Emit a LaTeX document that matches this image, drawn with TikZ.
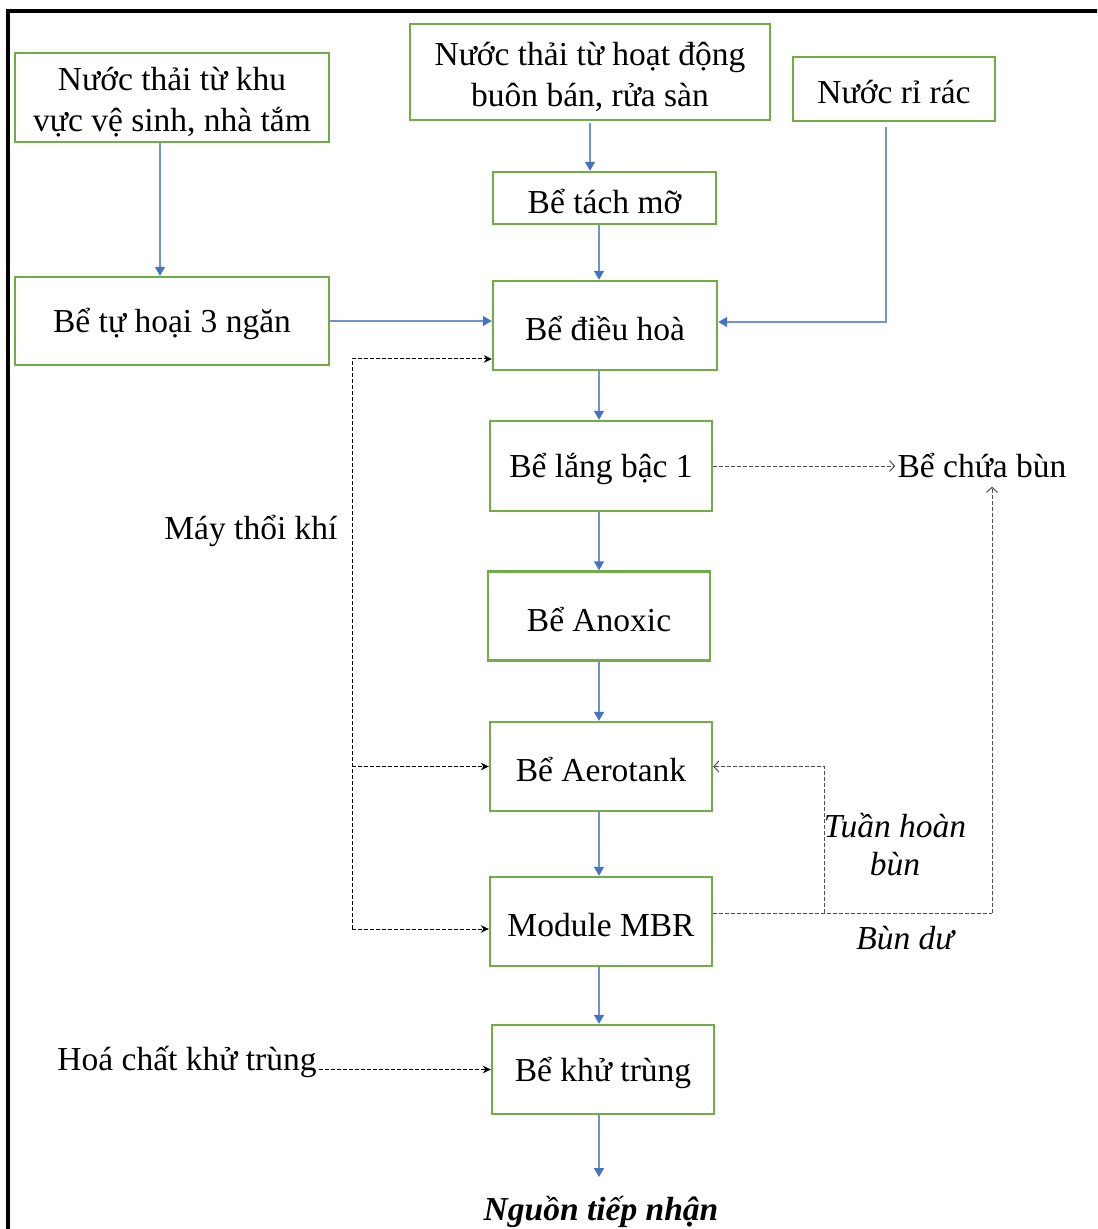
\documentclass[tikz,border=0pt]{standalone}
\usepackage{fontspec}
\setmainfont{Liberation Serif}
\usetikzlibrary{arrows.meta}

\definecolor{boxgreen}{HTML}{70AD47}
\definecolor{flowblue}{HTML}{4472C4}
\definecolor{flowline}{HTML}{6F93CF}
\definecolor{dashgray}{HTML}{4D4D4D}

\tikzset{
  txt/.style={font=\fontsize{16.75}{20.5}\selectfont, align=center, inner sep=1pt},
  boxtext/.style={txt, yshift=-1.6pt},
  boxtexttwo/.style={txt, yshift=-2.4pt},
  unitbox/.style={draw=boxgreen, line width=1.2pt, inner sep=0pt},
  flow/.style={draw=flowline, line width=0.7pt,
    -{Triangle[length=4.5pt,width=5pt,color=flowblue,fill=flowblue]}},
  airline/.style={draw=black, line width=0.5pt, dash pattern=on 2pt off 1pt},
  air/.style={airline, -{Stealth[length=4pt,width=3.8pt]}},
  sludgeline/.style={draw=dashgray, line width=0.5pt, dash pattern=on 2pt off 1pt},
  sludge/.style={sludgeline, -{Straight Barb[length=2.5pt,width=5.5pt]}},
}

\begin{document}
\begin{tikzpicture}[x=0.5pt, y=-0.5pt]
  \useasboundingbox (0,0) rectangle (1097,1229);
  \fill[white] (0,0) rectangle (1097,1229);
  \clip (0,0) rectangle (1097,1229);

  % outer frame
  \draw[line width=1.6pt, black] (8,1250) -- (8,11) -- (1120,11);

  % sources
  \node[unitbox, minimum width=157pt, minimum height=44.5pt,
    label={[boxtexttwo]center:{Nước thải từ khu\\vực vệ sinh, nhà tắm}}] (src1) at (172,97.5) {};
  \node[unitbox, minimum width=180pt, minimum height=48pt,
    label={[boxtexttwo]center:{Nước thải từ hoạt động\\buôn bán, rửa sàn}}] (src2) at (590,72) {};
  \node[unitbox, minimum width=101pt, minimum height=32pt,
    label={[boxtext]center:{Nước rỉ rác}}] (rirac) at (894,89) {};

  % treatment units
  \node[unitbox, minimum width=157pt, minimum height=44pt,
    label={[boxtext]center:{Bể tự hoại 3 ngăn}}] (tuhoai) at (172,321) {};
  \node[unitbox, minimum width=111.5pt, minimum height=26pt,
    label={[boxtext]center:{Bể tách mỡ}}] (tachmo) at (604.5,198) {};
  \node[unitbox, minimum width=112pt, minimum height=44.5pt,
    label={[boxtext]center:{Bể điều hoà}}] (dieuhoa) at (605,325.5) {};
  \node[unitbox, minimum width=111pt, minimum height=45pt,
    label={[boxtext]center:{Bể lắng bậc 1}}] (lang) at (601,466) {};
  \node[unitbox, minimum width=111pt, minimum height=44.5pt,
    label={[boxtext]center:{Bể Anoxic}}] (anoxic) at (599,616) {};
  \node[unitbox, minimum width=111pt, minimum height=44.5pt,
    label={[boxtext]center:{Bể Aerotank}}] (aerotank) at (601,766.5) {};
  \node[unitbox, minimum width=111pt, minimum height=44.5pt,
    label={[boxtext]center:{Module MBR}}] (mbr) at (601,921.5) {};
  \node[unitbox, minimum width=111pt, minimum height=44.5pt,
    label={[boxtext]center:{Bể khử trùng}}] (khutrung) at (603,1069.5) {};

  % free labels
  \node[txt] (chuabun) at (982,466) {Bể chứa bùn};
  \node[txt] (maythoi) at (251,531) {Máy thổi khí};
  \node[txt] (hoachat) at (187,1062) {Hoá chất khử trùng};
  \node[txt, font=\fontsize{16.75}{19}\selectfont\itshape] (tuanhoan) at (895,845) {Tuần hoàn\\bùn};
  \node[txt, font=\fontsize{16.75}{20}\selectfont\itshape] (bundu) at (905,938) {Bùn dư};
  \node[txt, font=\fontsize{16.75}{20}\selectfont\bfseries\itshape] (nguon) at (601,1212) {Nguồn tiếp nhận};

  % helper points for routed connectors
  \coordinate (airT) at (352,359);
  \coordinate (airB) at (352,929);
  \coordinate (waste) at (992,913);
  \coordinate (recyc) at (824,913);
  \coordinate (outlet) at (599,1177);

  % main water flow
  \draw[flow] ([xshift=-6pt]src1.south) -- ([xshift=-6pt]src1.south |- tuhoai.north);
  \draw[flow] (tuhoai.east) -- (tuhoai.east -| dieuhoa.west);
  \draw[flow] ([yshift=-1pt]src2.south) -- (src2.south |- tachmo.north);
  \draw[flow] ([xshift=-2.75pt]tachmo.south) -- ([xshift=-2.75pt]tachmo.south |- dieuhoa.north);
  \draw[flow] ([xshift=-4pt,yshift=-2.5pt]rirac.south) |- ([yshift=1.75pt]dieuhoa.east);
  \draw[flow] ([xshift=-3pt]dieuhoa.south) -- ([xshift=-3pt]dieuhoa.south |- lang.north);
  \draw[flow] (lang.south -| anoxic.north) -- (anoxic.north);
  \draw[flow] (anoxic.south) -- (anoxic.south |- aerotank.north);
  \draw[flow] ([xshift=-1pt]aerotank.south) -- ([xshift=-1pt]aerotank.south |- mbr.north);
  \draw[flow] ([xshift=-1pt]mbr.south) -- ([xshift=-1pt]mbr.south |- khutrung.north);
  \draw[flow] (khutrung.south -| outlet) -- (outlet);

  % air supply
  \draw[air] (airB) -- (airT) -- (airT -| dieuhoa.west);
  \draw[air] (airT |- aerotank.west) -- (aerotank.west);
  \draw[air] (airB) -- (airB -| mbr.west);

  % disinfectant dosing
  \draw[air] (hoachat.east |- khutrung.west) -- (khutrung.west);

  % sludge lines
  \draw[sludge] (lang.east) -- (lang.east -| chuabun.west);
  \draw[sludgeline] (mbr.east |- waste) -- (waste);
  \draw[sludge] (waste) -- ([yshift=-3pt]waste |- chuabun.south);
  \draw[sludge] (recyc) |- (aerotank.east);
\end{tikzpicture}
\end{document}
